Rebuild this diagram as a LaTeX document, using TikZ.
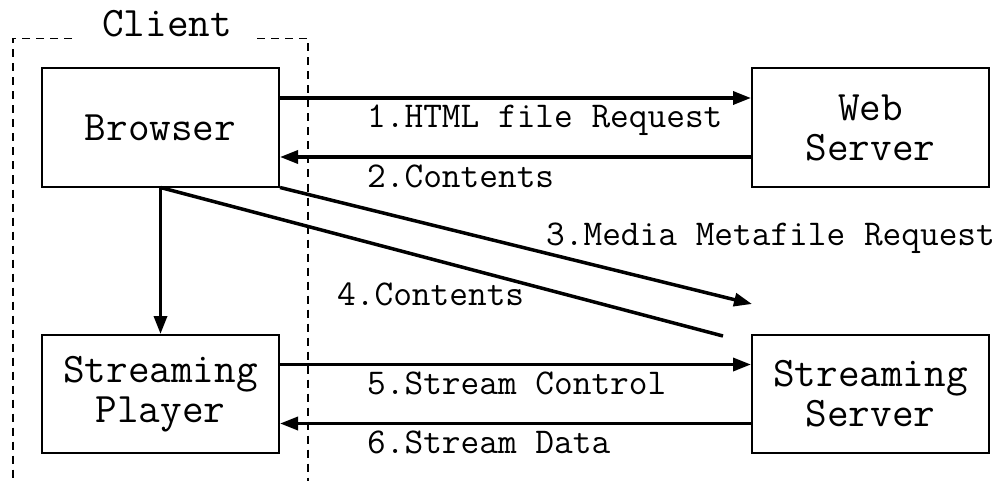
\documentclass[tikz,border=0pt]{standalone}
\usepackage{fontspec}
\usetikzlibrary{arrows.meta}
\begin{document}
\begin{tikzpicture}[x=1pt,y=-1pt,
  box/.style={draw,line width=2pt,minimum width=237pt,minimum height=118pt,
    align=center,font=\ttfamily\fontsize{42}{40}\selectfont,inner sep=0pt},
  msg/.style={line width=3.5pt,-{Triangle[length=18pt,width=13pt]}},
  plain/.style={line width=3.5pt},
  lbl/.style={font=\ttfamily\fontsize{36.3}{38}\selectfont,anchor=base west,inner sep=0pt},
  frame/.style={line width=1.5pt,dash pattern=on 8pt off 6pt}]
\useasboundingbox (0,0) rectangle (1000,481);

% client boundary with its title
\node[font=\ttfamily\fontsize{42}{40}\selectfont,anchor=base,inner sep=0pt] (client) at (167,37) {Client};
\draw[frame] (72,38.5) -- (13,38.5) -- (13,481);
\draw[frame] (257,38.5) -- (308,38.5) -- (308,481);

% components
\node[box] (browser) at (160.5,127.5) {Browser};
\node[box] (web) at (870.5,127.5) {Web\\Server};
\node[box] (player) at (160.5,394) {Streaming\\Player};
\node[box] (sserver) at (870.5,394) {Streaming\\Server};

% free ends of the diagonal connectors
\coordinate (meta) at (752,304);
\coordinate (back) at (723,336);

% messages
\draw[msg] ([yshift=29.5pt]browser.east) -- ([yshift=29.5pt]web.west);
\draw[msg] ([yshift=-29.5pt]web.west) -- ([yshift=-29.5pt]browser.east);
\draw[msg] (browser.south east) -- (meta);
\draw[plain] (back) -- (browser.south);
\draw[msg] (browser.south) -- (player.north);
\draw[msg] ([yshift=29.5pt]player.east) -- ([yshift=29.5pt]sserver.west);
\draw[msg] ([yshift=-29.5pt]sserver.west) -- ([yshift=-29.5pt]player.east);

% message labels
\node[lbl] (l1) at (367,128) {1.HTML file Request};
\node[lbl] (l2) at (367,187) {2.Contents};
\node[lbl] (l3) at (546,245) {3.Media Metafile Request};
\node[lbl] (l4) at (337,305) {4.Contents};
\node[lbl] (l5) at (367,394) {5.Stream Control};
\node[lbl] (l6) at (367,453) {6.Stream Data};
\end{tikzpicture}
\end{document}
